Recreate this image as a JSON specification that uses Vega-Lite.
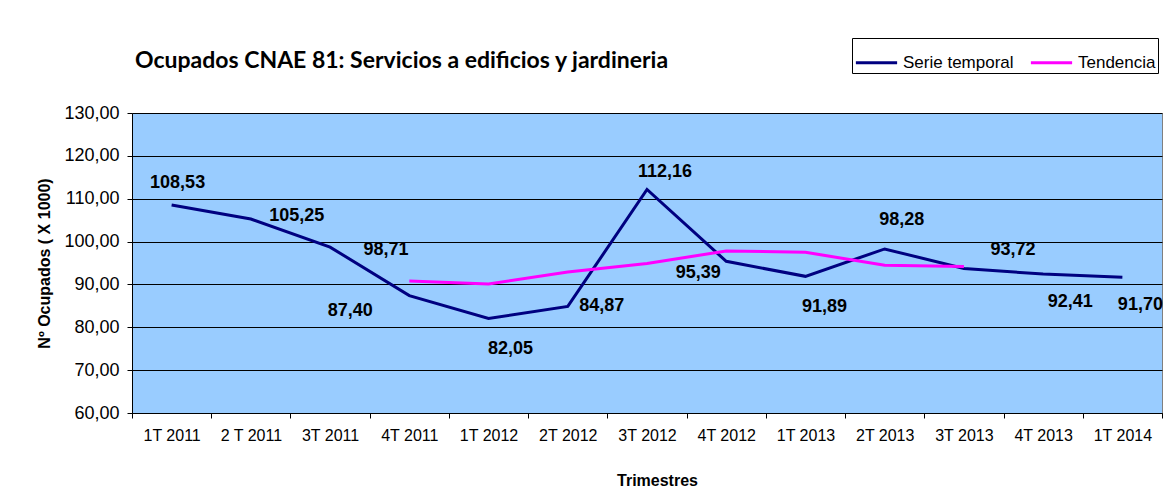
{
  "$schema": "https://vega.github.io/schema/vega-lite/v6.json",
  "width": 1030,
  "height": 300,
  "autosize": "none",
  "padding": {"left": 132, "top": 113, "right": 6, "bottom": 80},
  "background": "white",
  "title": {
    "text": "Ocupados CNAE 81: Servicios a edificios y jardineria",
    "anchor": "start",
    "frame": "group",
    "dx": 3,
    "offset": -35,
    "font": "Lato",
    "fontWeight": "bold",
    "fontSize": 23,
    "color": "black"
  },
  "data": {
    "values": [
      {"q": "1T 2011", "serie": 108.53, "tendencia": null},
      {"q": "2 T 2011", "serie": 105.25, "tendencia": null},
      {"q": "3T 2011", "serie": 98.71, "tendencia": null},
      {"q": "4T 2011", "serie": 87.40, "tendencia": 90.8},
      {"q": "1T 2012", "serie": 82.05, "tendencia": 90.1},
      {"q": "2T 2012", "serie": 84.87, "tendencia": 92.9},
      {"q": "3T 2012", "serie": 112.16, "tendencia": 94.9},
      {"q": "4T 2012", "serie": 95.39, "tendencia": 97.8},
      {"q": "1T 2013", "serie": 91.89, "tendencia": 97.5},
      {"q": "2T 2013", "serie": 98.28, "tendencia": 94.5},
      {"q": "3T 2013", "serie": 93.72, "tendencia": 94.2},
      {"q": "4T 2013", "serie": 92.41, "tendencia": null},
      {"q": "1T 2014", "serie": 91.70, "tendencia": null}
    ]
  },
  "encoding": {
    "x": {
      "field": "q",
      "type": "nominal",
      "sort": null,
      "bandPosition": 0.5,
      "scale": {"type": "band", "paddingInner": 0, "paddingOuter": 0},
      "axis": {
        "title": "Trimestres",
        "labelAngle": 0,
        "tickBand": "extent",
        "tickSize": 5,
        "tickColor": "black",
        "domainColor": "black",
        "labelPadding": 9,
        "labelFont": "Liberation Sans",
        "labelFontSize": 16,
        "labelColor": "black",
        "titleFont": "Liberation Sans",
        "titleFontSize": 16,
        "titleFontWeight": "bold",
        "titleColor": "black",
        "titlePadding": 29,
        "titleX": 525
      }
    }
  },
  "layer": [
    {
      "mark": {"type": "line", "strokeWidth": 3, "color": "#000080"},
      "encoding": {
        "y": {
          "field": "serie",
          "type": "quantitative",
          "scale": {"domain": [60, 130], "nice": false, "zero": false},
          "axis": {
            "title": "Nº Ocupados ( X 1000)",
            "values": [60, 70, 80, 90, 100, 110, 120, 130],
            "format": ".2f",
            "grid": true,
            "gridColor": "black",
            "gridWidth": 1,
            "gridOpacity": 1,
            "tickSize": 5,
            "tickColor": "black",
            "domainColor": "black",
            "labelPadding": 8,
            "labelFont": "Liberation Sans",
            "labelFontSize": 18,
            "labelColor": "black",
            "titleFont": "Liberation Sans",
            "titleFontSize": 16,
            "titleFontWeight": "bold",
            "titleColor": "black",
            "titlePadding": 11
          }
        },
        "color": {
          "datum": "Serie temporal",
          "type": "nominal",
          "scale": {"domain": ["Serie temporal", "Tendencia"], "range": ["#000080", "#FF00FF"]},
          "legend": {
            "title": null,
            "orient": "none",
            "legendX": 720,
            "legendY": -75,
            "direction": "horizontal",
            "symbolType": "stroke",
            "symbolSize": 1700,
            "symbolStrokeWidth": 3,
            "labelFont": "Liberation Sans",
            "labelFontSize": 17,
            "labelColor": "black",
            "columnPadding": 10,
            "labelOffset": 4,
            "padding": 2,
            "strokeColor": "black",
            "fillColor": "white"
          }
        }
      }
    },
    {
      "transform": [{"filter": "isValid(datum.tendencia)"}],
      "mark": {"type": "line", "strokeWidth": 3, "color": "#FF00FF"},
      "encoding": {
        "y": {"field": "tendencia", "type": "quantitative"},
        "color": {"datum": "Tendencia", "type": "nominal"}
      }
    },
    {"transform": [{"filter": {"field": "q", "equal": "1T 2011"}}], "mark": {"type": "text", "dx": 6, "dy": -22}, "encoding": {"y": {"field": "serie", "type": "quantitative"}, "text": {"field": "serie", "format": ".2f"}}},
    {"transform": [{"filter": {"field": "q", "equal": "2 T 2011"}}], "mark": {"type": "text", "dx": 46, "dy": -3}, "encoding": {"y": {"field": "serie", "type": "quantitative"}, "text": {"field": "serie", "format": ".2f"}}},
    {"transform": [{"filter": {"field": "q", "equal": "3T 2011"}}], "mark": {"type": "text", "dx": 56, "dy": 3}, "encoding": {"y": {"field": "serie", "type": "quantitative"}, "text": {"field": "serie", "format": ".2f"}}},
    {"transform": [{"filter": {"field": "q", "equal": "4T 2011"}}], "mark": {"type": "text", "dx": -59, "dy": 15}, "encoding": {"y": {"field": "serie", "type": "quantitative"}, "text": {"field": "serie", "format": ".2f"}}},
    {"transform": [{"filter": {"field": "q", "equal": "1T 2012"}}], "mark": {"type": "text", "dx": 22, "dy": 30}, "encoding": {"y": {"field": "serie", "type": "quantitative"}, "text": {"field": "serie", "format": ".2f"}}},
    {"transform": [{"filter": {"field": "q", "equal": "2T 2012"}}], "mark": {"type": "text", "dx": 34, "dy": 0}, "encoding": {"y": {"field": "serie", "type": "quantitative"}, "text": {"field": "serie", "format": ".2f"}}},
    {"transform": [{"filter": {"field": "q", "equal": "3T 2012"}}], "mark": {"type": "text", "dx": 18, "dy": -17}, "encoding": {"y": {"field": "serie", "type": "quantitative"}, "text": {"field": "serie", "format": ".2f"}}},
    {"transform": [{"filter": {"field": "q", "equal": "4T 2012"}}], "mark": {"type": "text", "dx": -28, "dy": 12}, "encoding": {"y": {"field": "serie", "type": "quantitative"}, "text": {"field": "serie", "format": ".2f"}}},
    {"transform": [{"filter": {"field": "q", "equal": "1T 2013"}}], "mark": {"type": "text", "dx": 19, "dy": 31}, "encoding": {"y": {"field": "serie", "type": "quantitative"}, "text": {"field": "serie", "format": ".2f"}}},
    {"transform": [{"filter": {"field": "q", "equal": "2T 2013"}}], "mark": {"type": "text", "dx": 17, "dy": -29}, "encoding": {"y": {"field": "serie", "type": "quantitative"}, "text": {"field": "serie", "format": ".2f"}}},
    {"transform": [{"filter": {"field": "q", "equal": "3T 2013"}}], "mark": {"type": "text", "dx": 49, "dy": -18}, "encoding": {"y": {"field": "serie", "type": "quantitative"}, "text": {"field": "serie", "format": ".2f"}}},
    {"transform": [{"filter": {"field": "q", "equal": "4T 2013"}}], "mark": {"type": "text", "dx": 27, "dy": 28}, "encoding": {"y": {"field": "serie", "type": "quantitative"}, "text": {"field": "serie", "format": ".2f"}}},
    {"transform": [{"filter": {"field": "q", "equal": "1T 2014"}}], "mark": {"type": "text", "dx": 18, "dy": 28}, "encoding": {"y": {"field": "serie", "type": "quantitative"}, "text": {"field": "serie", "format": ".2f"}}}
  ],
  "config": {
    "locale": {
      "number": {"decimal": ",", "thousands": ".", "grouping": [3], "currency": ["", " €"]}
    },
    "view": {"fill": "#99CCFF", "stroke": "#808080", "strokeWidth": 1},
    "text": {"font": "Liberation Sans", "fontWeight": "bold", "fontSize": 18, "color": "black", "baseline": "middle", "align": "center"}
  }
}
